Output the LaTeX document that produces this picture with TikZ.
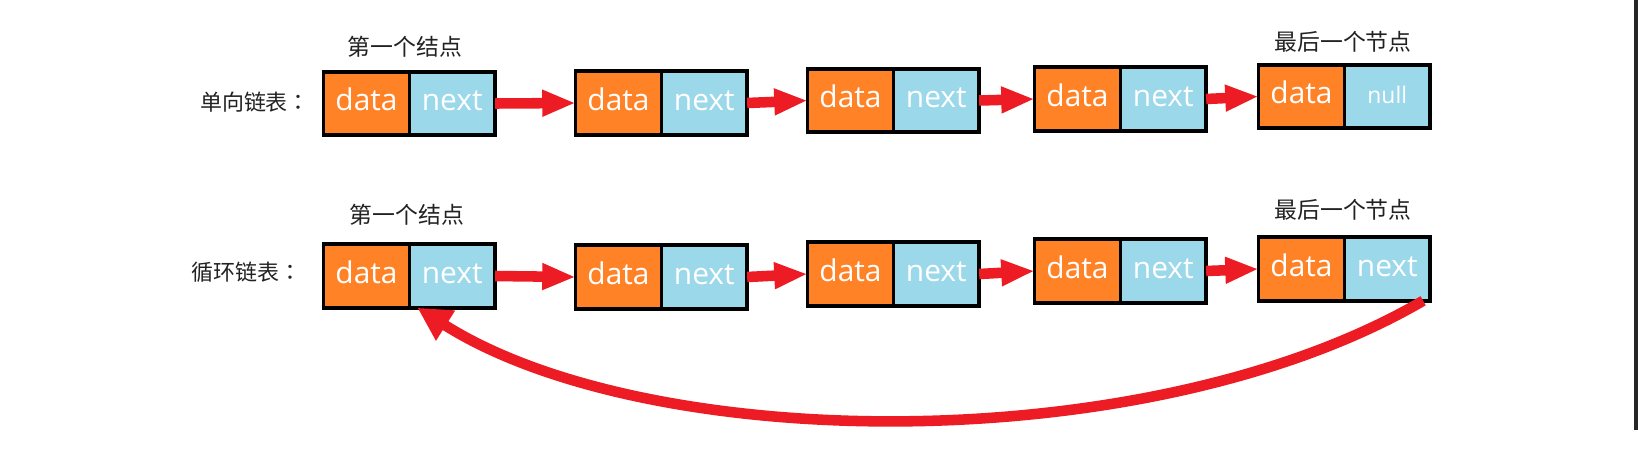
\documentclass[tikz,border=0pt]{standalone}
\usepackage{fontspec}
\setmainfont{Open Sans}
\newfontfamily\cjk{Noto Sans CJK SC}
\newfontfamily\cjktc{Noto Sans CJK TC}
\usetikzlibrary{positioning,arrows.meta}
\definecolor{dataorange}{RGB}{255,130,39}
\definecolor{nextblue}{RGB}{155,216,234}
\definecolor{linkred}{RGB}{237,28,36}
\definecolor{labelgray}{RGB}{34,34,34}
\tikzset{
  cell/.style={draw=black,line width=2pt,minimum width=1.715cm,minimum height=1.27cm,
    inner sep=0pt,outer sep=0pt,text=white,text height=11pt,text depth=3pt,
    font=\fontsize{17}{20}\selectfont},
  datacell/.style={cell,fill=dataorange},
  nextcell/.style={cell,fill=nextblue},
  link/.style={linkred,line width=6pt,-{Triangle[length=19pt,width=14pt]}},
  backlink/.style={linkred,line width=6pt,-{Triangle[length=19pt,width=19pt]}},
  title/.style={text=labelgray,font=\cjk\fontsize{13}{15}\selectfont},
  rowname/.style={text=labelgray,font=\cjk\fontsize{12.5}{14}\selectfont},
}
\begin{document}
\begin{tikzpicture}
\fill[white] (0,0) rectangle (32.76,8.6); %background
\fill[black!85] (32.68,0) rectangle (32.76,8.6); %right edge

% singly linked list
\node[rowname] (lab1) at (5.1,6.56) {单向链表{\cjktc ：}};
\node[title] (first1) at (8.1,7.66) {第一个结点};
\node[title] (last1) at (26.86,7.76) {最后一个节点};

\node[datacell] (d11) at (7.33,6.53) {data};
\node[nextcell,right=0pt of d11] (n11) {next};
\node[datacell] (d12) at (12.37,6.54) {data};
\node[nextcell,right=0pt of d12] (n12) {next};
\node[datacell] (d13) at (17.01,6.59) {data};
\node[nextcell,right=0pt of d13] (n13) {next};
\node[datacell] (d14) at (21.55,6.62) {data};
\node[nextcell,right=0pt of d14] (n14) {next};
\node[datacell] (d15) at (26.03,6.67) {data};
\node[nextcell,right=0pt of d15,font=\fontsize{13}{15}\selectfont] (n15) {null};

\draw[link] (n11.east) -- (d12.west);
\draw[link] (n12.east) -- (d13.west);
\draw[link] (n13.east) -- (d14.west);
\draw[link] (n14.east) -- (d15.west);

% circular linked list
\node[rowname] (lab2) at (4.93,3.16) {循环链表{\cjktc ：}};
\node[title] (first2) at (8.14,4.3) {第一个结点};
\node[title] (last2) at (26.86,4.4) {最后一个节点};

\node[datacell] (d21) at (7.33,3.08) {data};
\node[nextcell,right=0pt of d21] (n21) {next};
\node[datacell] (d22) at (12.37,3.06) {data};
\node[nextcell,right=0pt of d22] (n22) {next};
\node[datacell] (d23) at (17.01,3.12) {data};
\node[nextcell,right=0pt of d23] (n23) {next};
\node[datacell] (d24) at (21.55,3.18) {data};
\node[nextcell,right=0pt of d24] (n24) {next};
\node[datacell] (d25) at (26.03,3.22) {data};
\node[nextcell,right=0pt of d25] (n25) {next};

\draw[link] (n21.east) -- (d22.west);
\draw[link] (n22.east) -- (d23.west);
\draw[link] (n23.east) -- (d24.west);
\draw[link] (n24.east) -- (d25.west);

\draw[backlink] ([xshift=-0.14cm]n25.south east) .. controls (23,-0.6) and (13,-0.5) .. ([xshift=0.16cm]n21.south west); %back to head

\end{tikzpicture}
\end{document}
